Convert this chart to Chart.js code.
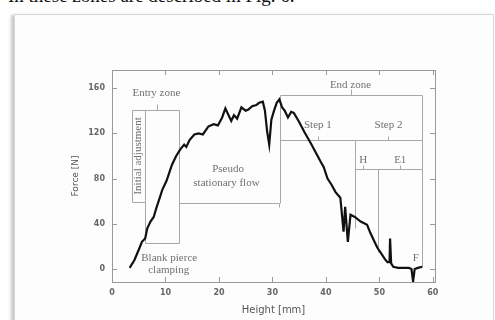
<!DOCTYPE html>
<html>
<head>
<meta charset="utf-8">
<script src="https://cdn.jsdelivr.net/npm/chart.js@4"></script>
<style>
  html, body { margin: 0; padding: 0; background: #fff; }
  body { width: 495px; height: 320px; position: relative; overflow: hidden; }
  #caption { position: absolute; left: 8px; top: -14px; font: 19px "Liberation Serif", serif; color: #111; line-height: 1; white-space: nowrap; }
  #frame { position: absolute; left: 14px; top: 14px; width: 478px; height: 320px; background: #fdfdfd;
           border: 1px solid #d6d6d6; box-shadow: -3px 1px 3px rgba(0,0,0,0.22); }
  #wrap { position: absolute; left: 0; top: 0; width: 495px; height: 320px; }
</style>
</head>
<body>
<div id="caption">In these zones are described in Fig. 6.</div>
<div id="frame"></div>
<div id="wrap"><canvas id="chart" width="495" height="320"></canvas></div>
<script>
// height [mm] vs force [N]
const heights = [3.3, 4.2, 5.0, 5.6, 6.2, 6.6, 7.2, 7.8, 8.3, 9.0, 9.4, 10.2, 11.2, 12.0, 12.8, 13.5, 13.9,
  14.5, 15.4, 16.2, 17.0, 18.0, 19.0, 19.8, 20.6, 21.2, 21.8, 22.3, 22.8, 23.4, 24.2, 25.0, 25.5, 26.2,
  27.0, 27.5, 28.2, 28.6, 29.0, 29.4, 29.8, 30.3, 30.8, 31.3, 31.8, 32.3, 32.9, 33.5, 34.0, 35.0, 36.0,
  37.2, 38.0, 39.0, 39.6, 40.3, 41.0, 41.8, 42.7, 43.3, 43.6, 44.1, 44.6, 45.4, 46.5, 47.7, 48.3, 49.0,
  49.6, 50.3, 51.0, 51.5, 51.9, 52.0, 52.2, 52.6, 53.5, 54.5, 55.5, 56.0, 56.3, 56.6, 57.2, 58.0];
const forces = [1, 8, 17, 24, 27, 36, 42, 46, 54, 64, 70, 78, 92, 100, 106, 110, 108,
  114, 119, 120, 119, 126, 128, 127, 134, 142, 136, 131, 136, 133, 143, 140, 141, 144,
  145, 147, 148, 140, 122, 110, 132, 140, 147, 150, 143, 140, 134, 139, 138, 130, 121,
  111, 104, 95, 90, 80, 75, 68, 63, 33, 55, 24, 48, 46, 42, 39, 32, 25,
  19, 14, 9, 6, 6, 27, 5, 2, 1, 1, 1, 0, -11, 0, 1, 2];

const xTicks = [0, 10, 20, 30, 40, 50, 60];
const yTicks = [0, 40, 80, 120, 160];

// zone brackets, in data units: [x1, y1, x2, y2]
const zoneLines = [
  [3.7, 141, 12.6, 141], [8.4, 141, 8.4, 146],
  [3.7, 141, 3.7, 59], [6.1, 141, 6.1, 59], [3.7, 59, 6.1, 59],
  [6.1, 59, 6.1, 23], [6.1, 23, 12.6, 23], [12.6, 141, 12.6, 23],
  [12.6, 58, 31.2, 58], [31.2, 58, 31.2, 55],
  [31.4, 154, 31.4, 58], [31.4, 154, 58, 154], [44.6, 154, 44.6, 159], [58, 154, 58, 2],
  [31.4, 114, 58, 114], [38.5, 114, 38.5, 118], [51.7, 114, 51.7, 118],
  [45.5, 114, 45.5, 36], [45.5, 88, 58, 88], [47, 88, 47, 92], [53.9, 88, 53.9, 92],
  [49.8, 88, 49.8, 15]
];
// zone labels: [text, x, y]
const zoneLabels = [
  ['Entry zone', 8.3, 156], ['Blank pierce', 10.7, 10], ['clamping', 10.6, -1],
  ['Pseudo', 21.7, 88], ['stationary flow', 21.4, 76],
  ['End zone', 44.6, 163], ['Step 1', 38.5, 127], ['Step 2', 51.7, 127],
  ['H', 47, 96], ['E1', 53.9, 96], ['F', 56.8, 10]
];
const sideLabel = ['Initial adjustment', 4.9, 100];

const gray = '#9a9a9a';

const zonesPlugin = {
  id: 'zones',
  beforeDatasetsDraw(chart) {
    const { ctx, scales: { x, y }, chartArea: a } = chart;
    ctx.save();
    // axis box with inward ticks
    ctx.strokeStyle = gray;
    ctx.lineWidth = 1;
    ctx.strokeRect(a.left + 0.5, a.top + 0.5, a.width, a.height);
    ctx.beginPath();
    xTicks.forEach((v) => {
      const px = Math.round(x.getPixelForValue(v)) + 0.5;
      ctx.moveTo(px, a.bottom); ctx.lineTo(px, a.bottom - 5);
      ctx.moveTo(px, a.top); ctx.lineTo(px, a.top + 5);
    });
    yTicks.forEach((v) => {
      const py = Math.round(y.getPixelForValue(v)) + 0.5;
      ctx.moveTo(a.left, py); ctx.lineTo(a.left + 5, py);
      ctx.moveTo(a.right, py); ctx.lineTo(a.right - 5, py);
    });
    ctx.stroke();

    // zone brackets
    ctx.strokeStyle = '#a8a8a8';
    ctx.beginPath();
    zoneLines.forEach(([x1, y1, x2, y2]) => {
      ctx.moveTo(Math.round(x.getPixelForValue(x1)) + 0.5, Math.round(y.getPixelForValue(y1)) + 0.5);
      ctx.lineTo(Math.round(x.getPixelForValue(x2)) + 0.5, Math.round(y.getPixelForValue(y2)) + 0.5);
    });
    ctx.stroke();

    ctx.fillStyle = '#707070';
    ctx.font = '11px "Liberation Serif", serif';
    ctx.textAlign = 'center';
    ctx.textBaseline = 'middle';
    zoneLabels.forEach(([t, lx, ly]) => {
      ctx.fillText(t, x.getPixelForValue(lx), y.getPixelForValue(ly));
    });
    ctx.save();
    ctx.translate(x.getPixelForValue(sideLabel[1]), y.getPixelForValue(sideLabel[2]));
    ctx.rotate(-Math.PI / 2);
    ctx.fillText(sideLabel[0], 0, 0);
    ctx.restore();
    ctx.restore();
  }
};

new Chart(document.getElementById('chart'), {
  type: 'line',
  data: {
    datasets: [{
      data: heights.map((h, i) => ({ x: h, y: forces[i] })),
      borderColor: '#111',
      borderWidth: 2.2,
      pointRadius: 0,
      tension: 0
    }]
  },
  options: {
    responsive: false,
    animation: false,
    layout: { padding: { left: 64, top: 70, right: 60, bottom: 0 } },
    plugins: { legend: { display: false }, tooltip: { enabled: false } },
    scales: {
      x: {
        type: 'linear',
        min: 0,
        max: 60.4,
        grid: { display: false, drawTicks: false },
        border: { display: false },
        afterBuildTicks: (s) => { s.ticks = xTicks.map(v => ({ value: v })); },
        afterFit: (s) => { s.height = 38; },
        ticks: { color: '#666', font: { size: 8, family: 'DejaVu Sans', weight: 'bold' }, padding: 6, maxRotation: 0 },
        title: { display: true, text: 'Height [mm]', color: '#555',
                 font: { size: 10, family: 'DejaVu Sans' }, padding: { top: 0, bottom: 4 } }
      },
      y: {
        min: -11.5,
        max: 176,
        grid: { display: false, drawTicks: false },
        border: { display: false },
        afterBuildTicks: (s) => { s.ticks = yTicks.map(v => ({ value: v })); },
        afterFit: (s) => { s.width = 48; },
        ticks: { color: '#666', font: { size: 8, family: 'DejaVu Sans', weight: 'bold' }, padding: 7 },
        title: { display: true, text: 'Force [N]', color: '#555',
                 font: { size: 9, family: 'DejaVu Sans' }, padding: { top: 6, bottom: 0 } }
      }
    }
  },
  plugins: [zonesPlugin]
});
</script>
</body>
</html>
